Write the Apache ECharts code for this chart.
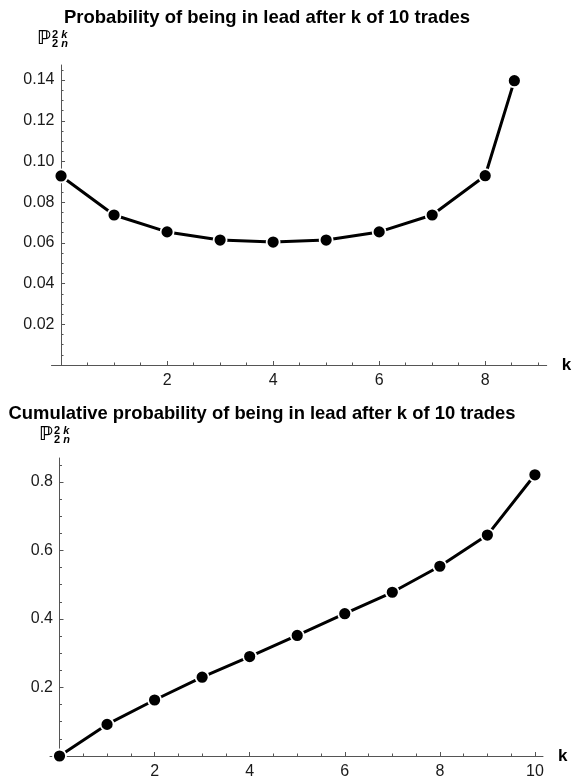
<!DOCTYPE html>
<html>
<head>
<meta charset="utf-8">
<script src="https://cdn.jsdelivr.net/npm/echarts@6/dist/echarts.min.js"></script>
<style>
  html, body { margin: 0; padding: 0; background: #fff; }
  #chart { width: 584px; height: 780px; }
</style>
</head>
<body>
<div id="chart"></div>
<script>
// Probability of being in the lead after k of 10 trades
const leadK = [0, 1, 2, 3, 4, 5, 6, 7, 8, 8.55];
const leadP = [0.0929, 0.0737, 0.0654, 0.0614, 0.0604, 0.0614, 0.0654, 0.0737, 0.0930, 0.1397];

// Cumulative probability of being in the lead after k of 10 trades
const cumK = [0, 1, 2, 3, 4, 5, 6, 7, 8, 9, 10];
const cumP = [0, 0.0923, 0.1635, 0.230, 0.2904, 0.352, 0.4154, 0.478, 0.554, 0.645, 0.821];

// Tick marks and labels
const leadXTicks = [2, 4, 6, 8];
const leadXMinor = [0.5, 1, 1.5, 2.5, 3, 3.5, 4.5, 5, 5.5, 6.5, 7, 7.5, 8.5, 9];
const leadYTicks = [0.02, 0.04, 0.06, 0.08, 0.10, 0.12, 0.14];
const leadYMinor = [0.005, 0.01, 0.015, 0.025, 0.03, 0.035, 0.045, 0.05, 0.055, 0.065, 0.07, 0.075,
                    0.085, 0.09, 0.095, 0.105, 0.11, 0.115, 0.125, 0.13, 0.135, 0.145];
const cumXTicks = [2, 4, 6, 8, 10];
const cumXMinor = [0.5, 1, 1.5, 2.5, 3, 3.5, 4.5, 5, 5.5, 6.5, 7, 7.5, 8.5, 9, 9.5];
const cumYTicks = [0.2, 0.4, 0.6, 0.8];
const cumYMinor = [0.05, 0.1, 0.15, 0.25, 0.3, 0.35, 0.45, 0.5, 0.55, 0.65, 0.7, 0.75, 0.85];

const titleTop = 'Probability of being in lead after k of 10 trades';
const titleBottom = 'Cumulative probability of being in lead after k of 10 trades';

const FONT = '"Liberation Sans", Arial, sans-serif';
const AXIS_COLOR = '#555';
const LABEL_COLOR = '#1a1a1a';

function majorX(grid, min, max, ticks) {
  return {
    type: 'value', gridIndex: grid, min: min, max: max, position: 'bottom',
    name: 'k', nameLocation: 'end', nameGap: 15,
    nameTextStyle: { fontFamily: FONT, fontWeight: 'bold', fontSize: 17, color: '#000' },
    axisLine: { show: true, onZero: true, lineStyle: { color: AXIS_COLOR, width: 1 } },
    axisTick: { show: true, inside: true, length: 4, customValues: ticks, lineStyle: { color: AXIS_COLOR } },
    axisLabel: { show: true, customValues: ticks, margin: 8, fontFamily: FONT, fontSize: 16, color: LABEL_COLOR,
                 formatter: v => String(v) },
    splitLine: { show: false }
  };
}
function minorX(grid, min, max, ticks) {
  return {
    type: 'value', gridIndex: grid, min: min, max: max, position: 'bottom',
    axisLine: { show: false },
    axisTick: { show: true, inside: true, length: 2.5, customValues: ticks, lineStyle: { color: AXIS_COLOR } },
    axisLabel: { show: false },
    splitLine: { show: false }
  };
}
function majorY(grid, min, max, ticks, decimals) {
  return {
    type: 'value', gridIndex: grid, min: min, max: max, position: 'left',
    axisLine: { show: true, onZero: true, onZeroAxisIndex: grid * 2, lineStyle: { color: AXIS_COLOR, width: 1 } },
    axisTick: { show: true, inside: true, length: 4, customValues: ticks, lineStyle: { color: AXIS_COLOR } },
    axisLabel: { show: true, customValues: ticks, margin: -3, fontFamily: FONT, fontSize: 16, color: LABEL_COLOR,
                 formatter: v => v.toFixed(decimals) },
    splitLine: { show: false }
  };
}
function minorY(grid, min, max, ticks) {
  return {
    type: 'value', gridIndex: grid, min: min, max: max, position: 'left',
    axisLine: { show: false, onZero: true, onZeroAxisIndex: grid * 2 + 1 },
    axisTick: { show: true, inside: true, length: 2.5, customValues: ticks, lineStyle: { color: AXIS_COLOR } },
    axisLabel: { show: false },
    splitLine: { show: false }
  };
}
function lineSeries(xi, yi, xs, ys) {
  return {
    type: 'line', xAxisIndex: xi, yAxisIndex: yi,
    data: xs.map((x, i) => [x, ys[i]]),
    symbol: 'circle', symbolSize: 13, showSymbol: true, showAllSymbol: true,
    itemStyle: { color: '#000', borderColor: '#fff', borderWidth: 1.8 },
    lineStyle: { color: '#000', width: 3 },
    emphasis: { disabled: true },
    silent: true
  };
}
// Double-struck P with stacked super/subscript
function probLabel(x, y) {
  const rich = {
    a: { fontFamily: FONT, fontWeight: 'bold', fontSize: 11 },
    b: { fontFamily: FONT, fontWeight: 'bold', fontStyle: 'italic', fontSize: 11 }
  };
  return {
    type: 'group', x: x, y: y,
    children: [
      { type: 'text', x: 0, y: 0,
        style: { text: '\u2119', fontFamily: '"DejaVu Sans"', fontWeight: 'bold', fontSize: 19, fill: '#000',
                 textVerticalAlign: 'top', verticalAlign: 'top' } },
      { type: 'text', x: 15, y: -1,
        style: { text: '{a|2}{b| k}', fill: '#000', textVerticalAlign: 'top', verticalAlign: 'top', rich: rich } },
      { type: 'text', x: 15, y: 8,
        style: { text: '{a|2}{b| n}', fill: '#000', textVerticalAlign: 'top', verticalAlign: 'top', rich: rich } }
    ]
  };
}

const chart = echarts.init(document.getElementById('chart'), null, { renderer: 'canvas' });
chart.setOption({
  animation: false,
  backgroundColor: '#fff',
  grid: [
    { left: 51.5, right: 37.3, top: 65, bottom: 415, containLabel: false },
    { left: 50, right: 41, top: 458, bottom: 20.3, containLabel: false }
  ],
  xAxis: [
    majorX(0, -0.18, 9.16, leadXTicks),
    minorX(0, -0.18, 9.16, leadXMinor),
    majorX(1, -0.2, 10.17, cumXTicks),
    minorX(1, -0.2, 10.17, cumXMinor)
  ],
  yAxis: [
    majorY(0, 0, 0.1474, leadYTicks, 2),
    minorY(0, 0, 0.1474, leadYMinor),
    majorY(1, 0, 0.87, cumYTicks, 1),
    minorY(1, 0, 0.87, cumYMinor)
  ],
  series: [
    lineSeries(0, 0, leadK, leadP),
    lineSeries(2, 2, cumK, cumP)
  ],
  graphic: [
    { type: 'text', x: 267, y: 8,
      style: { text: titleTop, fontFamily: FONT, fontWeight: 'bold', fontSize: 18.5, fill: '#000',
               textAlign: 'center', align: 'center', textVerticalAlign: 'top', verticalAlign: 'top' } },
    { type: 'text', x: 262, y: 405,
      style: { text: titleBottom, fontFamily: FONT, fontWeight: 'bold', fontSize: 18.4, fill: '#000',
               textAlign: 'center', align: 'center', textVerticalAlign: 'top', verticalAlign: 'top' } },
    probLabel(37, 30),
    probLabel(39, 426)
  ]
});
</script>
</body>
</html>
